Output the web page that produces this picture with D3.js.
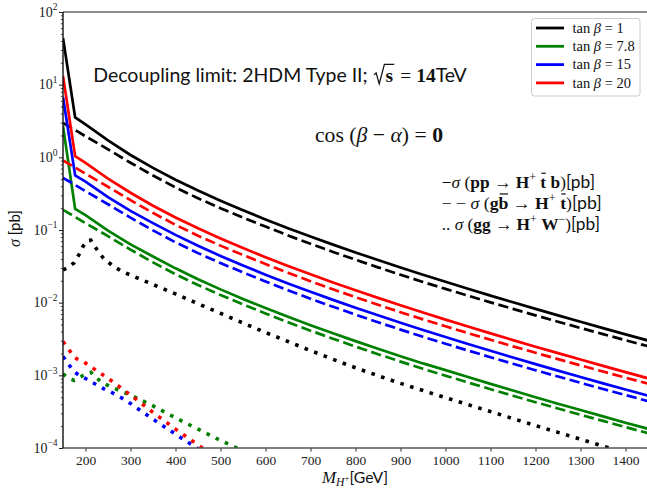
<!DOCTYPE html>
<html>
<head>
<meta charset="utf-8">
<script src="https://cdn.jsdelivr.net/npm/d3@7"></script>
<style>
  body { margin: 0; background: #fff; }
  svg { display: block; }
</style>
</head>
<body>
<svg id="chart" width="647" height="488"></svg>
<script>
// ---- data -------------------------------------------------------------
// charged Higgs masses (GeV) for the pp -> H+ t b and g b -> H+ t curves
const massTB = [150, 177, 200, 250, 300, 350, 400, 450, 500, 550, 600, 650, 700, 750,
  800, 850, 900, 950, 1000, 1050, 1100, 1150, 1200, 1250, 1300, 1350, 1400, 1450];

// sigma(pp -> H+ tbar b) [pb]
const ppHtb_tb1   = [43.8, 3.55, 2.85, 1.708, 1.077, 0.7154, 0.4926, 0.3491, 0.2530, 0.1867, 0.1398, 0.1060, 0.0813, 0.0629,
  0.0491, 0.03855, 0.03048, 0.02422, 0.01935, 0.01553, 0.01251, 0.01012, 0.00821, 0.006686, 0.005458, 0.004467, 0.003666, 0.003015];
const ppHtb_tb7p8 = [2.7, 0.195, 0.1603, 0.09826, 0.06343, 0.0431, 0.02969, 0.02104, 0.01524, 0.01125, 0.008424, 0.006389, 0.0049, 0.003792,
  0.002958, 0.002323, 0.001836, 0.001459, 0.00118, 0.000947, 0.000763, 0.000617, 0.0005, 0.000407, 0.000333, 0.000272, 0.000223, 0.000184];
const ppHtb_tb15  = [6.76, 0.5623, 0.4624, 0.2834, 0.1830, 0.1243, 0.0856, 0.06067, 0.04395, 0.03244, 0.02429, 0.01842, 0.01413, 0.01093,
  0.008529, 0.006699, 0.005296, 0.004208, 0.003362, 0.002698, 0.002174, 0.001758, 0.001427, 0.001162, 0.000948, 0.000776, 0.000637, 0.000524];
const ppHtb_tb20  = [13.2, 1.035, 0.841, 0.5098, 0.3254, 0.2160, 0.1487, 0.1054, 0.07639, 0.05637, 0.04222, 0.03202, 0.02456, 0.0190,
  0.01482, 0.01164, 0.009202, 0.007313, 0.005843, 0.004689, 0.003778, 0.003055, 0.002479, 0.002019, 0.001648, 0.001349, 0.001107, 0.000911];

// sigma(g bbar -> H+ tbar) [pb]
const gbHt_tb1   = [2.972, 2.371, 1.950, 1.288, 0.8414, 0.5623, 0.3855, 0.2735, 0.1995, 0.1483, 0.1114, 0.08424, 0.06456, 0.04995,
  0.03899, 0.03062, 0.0242, 0.01928, 0.01548, 0.01248, 0.0101, 0.008204, 0.00669, 0.005472, 0.004487, 0.00369, 0.003042, 0.002514];
const gbHt_tb7p8 = [0.1897, 0.1513, 0.1245, 0.08221, 0.05371, 0.03589, 0.02461, 0.01746, 0.01273, 0.009466, 0.007111, 0.005377, 0.004121, 0.003188,
  0.002489, 0.001954, 0.001545, 0.001231, 0.000988, 0.000797, 0.000645, 0.000524, 0.000427, 0.000349, 0.000286, 0.000236, 0.000194, 0.00016];
const gbHt_tb15  = [0.5225, 0.4168, 0.3428, 0.2264, 0.1479, 0.09885, 0.06777, 0.04808, 0.03507, 0.02607, 0.01958, 0.01481, 0.01135, 0.008781,
  0.006854, 0.005383, 0.004254, 0.003389, 0.002721, 0.002194, 0.001776, 0.001442, 0.001176, 0.000962, 0.000789, 0.000649, 0.000535, 0.000442];
const gbHt_tb20  = [0.908, 0.7243, 0.5957, 0.3935, 0.2571, 0.1718, 0.1178, 0.08355, 0.06095, 0.04531, 0.03403, 0.02574, 0.01972, 0.01526,
  0.01191, 0.009354, 0.007393, 0.00589, 0.004729, 0.003813, 0.003086, 0.002506, 0.002044, 0.001672, 0.001371, 0.001127, 0.000929, 0.000768];

// charged Higgs masses (GeV) for the gg -> H+ W- curves
const massGG = [150, 160, 175, 185, 195, 205, 212, 225, 240, 260, 280, 300, 350, 400, 450, 500, 550, 600,
  650, 700, 750, 800, 850, 900, 950, 1000, 1050, 1100, 1150, 1200, 1250, 1300, 1350, 1400];

// sigma(gg -> H+ W-) [pb]
const ggHW_tb1   = [0.0282, 0.0302, 0.0355, 0.0452, 0.0603, 0.0716, 0.0724, 0.0542, 0.0408, 0.0324, 0.0271, 0.0240, 0.01778, 0.01318,
  0.00966, 0.00714, 0.00525, 0.00389, 0.00292, 0.00219, 0.00166, 0.00127, 0.000989, 0.000776, 0.000617, 0.000493, 0.000395,
  0.000317, 0.000254, 0.000204, 0.000164, 0.000132, 0.000106, 0.0000851];
const ggHW_tb7p8 = [0.00105, 0.000933, 0.000851, 0.000912, 0.001, 0.00107, 0.0011, 0.000912, 0.000776, 0.000676, 0.000603, 0.000537,
  0.00038, 0.00026, 0.000182, 0.000127, 0.0000912];
const ggHW_tb15  = [0.00182, 0.00148, 0.00112, 0.00101, 0.000944, 0.000868, 0.000818, 0.000741, 0.000656, 0.000573, 0.00049, 0.000409,
  0.000249, 0.000155, 0.0000977, 0.0000617];
const ggHW_tb20  = [0.00292, 0.0024, 0.00178, 0.00162, 0.00155, 0.00141, 0.00132, 0.00115, 0.001, 0.000822, 0.000661, 0.000537,
  0.000309, 0.000182, 0.00011, 0.0000676];

const tanBetaLabels = ['1', '7.8', '15', '20'];
const seriesColors = ['#000000', '#008000', '#0000ff', '#ff0000'];
const solidSets  = [ppHtb_tb1, ppHtb_tb7p8, ppHtb_tb15, ppHtb_tb20];
const dashedSets = [gbHt_tb1, gbHt_tb7p8, gbHt_tb15, gbHt_tb20];
const dottedSets = [ggHW_tb1, ggHW_tb7p8, ggHW_tb15, ggHW_tb20];

const xTicks = [200, 300, 400, 500, 600, 700, 800, 900, 1000, 1100, 1200, 1300, 1400];
const yExponents = [-4, -3, -2, -1, 0, 1, 2];

// ---- layout -----------------------------------------------------------
const W = 647, H = 488;
const P = { l: 63, r: 648, t: 12, b: 448 };
const SERIF = "'Liberation Serif', 'DejaVu Serif', serif";
const SANS = "Lato, 'DejaVu Sans', sans-serif";

const svg = d3.select('#chart');
svg.append('rect').attr('width', W).attr('height', H).attr('fill', '#fff');

const x = d3.scaleLinear().domain([150, 1450]).range([P.l, P.r]);
const y = d3.scaleLog().domain([1e-4, 1e2]).range([P.b, P.t]);

svg.append('defs').append('clipPath').attr('id', 'plotArea')
  .append('rect').attr('x', P.l).attr('y', P.t).attr('width', P.r - P.l).attr('height', P.b - P.t);

// ---- curves -----------------------------------------------------------
const line = d3.line().x(d => x(d[0])).y(d => y(d[1]));
const plot = svg.append('g').attr('clip-path', 'url(#plotArea)');
const zip = (ms, vs) => vs.map((v, i) => [ms[i], v]);

seriesColors.forEach((c, i) => {
  plot.append('path').attr('d', line(zip(massTB, solidSets[i])))
    .attr('fill', 'none').attr('stroke', c).attr('stroke-width', 2.7);
  plot.append('path').attr('d', line(zip(massTB, dashedSets[i])))
    .attr('fill', 'none').attr('stroke', c).attr('stroke-width', 2.7)
    .attr('stroke-dasharray', '10.3,4.5');
  plot.append('path').attr('d', line(zip(massGG, dottedSets[i])))
    .attr('fill', 'none').attr('stroke', c).attr('stroke-width', 3.6)
    .attr('stroke-dasharray', '3.6,6.6');
});

// ---- axes -------------------------------------------------------------
const gx = svg.append('g').attr('transform', `translate(0,${P.b})`)
  .call(d3.axisBottom(x).tickValues(xTicks).tickSize(3.5).tickSizeOuter(0).tickPadding(4).tickFormat(d3.format('d')));
gx.select('.domain').remove();
gx.selectAll('.tick line').attr('stroke', '#222').attr('stroke-width', 1);
gx.selectAll('.tick text').attr('font-family', SERIF).attr('font-size', 13.5).attr('fill', '#222');

const majors = yExponents.map(e => Math.pow(10, e));
const minors = [];
yExponents.slice(0, -1).forEach(e => { for (let k = 2; k <= 9; k++) minors.push(k * Math.pow(10, e)); });

const gyMinor = svg.append('g').attr('transform', `translate(${P.l},0)`)
  .call(d3.axisLeft(y).tickValues(minors).tickSize(2.2).tickFormat(''));
gyMinor.select('.domain').remove();
gyMinor.selectAll('.tick line').attr('stroke', '#222').attr('stroke-width', 0.8);

const gy = svg.append('g').attr('transform', `translate(${P.l},0)`)
  .call(d3.axisLeft(y).tickValues(majors).tickSize(4).tickFormat(''));
gy.select('.domain').remove();
gy.selectAll('.tick line').attr('stroke', '#222').attr('stroke-width', 1);

// y tick labels as 10^n
yExponents.forEach(e => {
  const t = svg.append('text').attr('x', P.l - 5.5).attr('y', y(Math.pow(10, e)) + 4.8)
    .attr('text-anchor', 'end').attr('font-family', SERIF).attr('fill', '#222');
  t.append('tspan').attr('font-size', 14).text('10');
  t.append('tspan').attr('font-size', 9.5).attr('dy', -6.5).text(e < 0 ? '\u2212' + (-e) : String(e));
});

// spines
svg.append('line').attr('x1', P.l).attr('x2', W).attr('y1', P.t).attr('y2', P.t)
  .attr('stroke', '#666').attr('stroke-width', 1.4);
svg.append('line').attr('x1', P.l).attr('x2', W).attr('y1', P.b).attr('y2', P.b)
  .attr('stroke', '#555').attr('stroke-width', 1.4);
svg.append('line').attr('x1', P.l).attr('x2', P.l).attr('y1', P.t).attr('y2', P.b)
  .attr('stroke', '#111').attr('stroke-width', 1.4);

// ---- mixed-font text runs -------------------------------------------------
// parts: {t, f, s, b (bold), i (italic), dy, bar (overline), rad (radical over next part), sp}
function textRuns(parent, parts, opts) {
  const g = parent.append('g');
  let cx = 0;
  const placed = [];
  parts.forEach(p => {
    if (p.rad) { placed.push({ x0: cx, x1: cx + p.sp, p }); cx += p.sp; return; }
    const t = g.append('text').attr('x', cx).attr('y', p.dy || 0)
      .attr('font-family', p.f || SERIF).attr('font-size', p.s || 16)
      .attr('font-weight', p.b ? 'bold' : 'normal')
      .attr('font-style', p.i ? 'italic' : 'normal')
      .attr('fill', '#111')
      .style('white-space', 'pre')
      .text(p.t);
    const w = t.node().getComputedTextLength();
    placed.push({ x0: cx, x1: cx + w, p });
    cx += w + (p.gap || 0);
  });
  placed.forEach((q, k) => {
    const s = q.p.s || 16;
    if (q.p.bar) {
      g.append('line').attr('x1', q.x0 + 0.8).attr('x2', q.x1 - 0.3)
        .attr('y1', -0.82 * s).attr('y2', -0.82 * s)
        .attr('stroke', '#111').attr('stroke-width', 0.9);
    }
    if (q.p.rad) {
      const nx = placed[k + 1];
      const top = -0.88 * q.p.s;
      g.append('path').attr('fill', 'none').attr('stroke', '#111').attr('stroke-width', 1.1)
        .attr('d', `M${q.x0 + 1},${-0.34 * q.p.s} L${q.x0 + 2.8},${-0.44 * q.p.s} L${q.x0 + 5.5},${0.12 * q.p.s} L${q.x0 + q.p.sp - 1},${top} L${nx.x1 + 1},${top}`);
    }
  });
  const scale = opts.width ? opts.width / cx : 1;
  let ox = opts.x;
  if (opts.anchor === 'middle') ox = opts.x - (cx * scale) / 2;
  if (opts.anchor === 'end') ox = opts.x - cx * scale;
  const pre = opts.rotate ? `translate(${opts.x},${opts.y}) rotate(${opts.rotate}) translate(${-cx * scale / 2},0)` :
    `translate(${ox},${opts.y})`;
  g.attr('transform', `${pre} scale(${scale})`);
  return g;
}

// axis titles
textRuns(svg, [
  { t: 'M', i: true, s: 14.5 },
  { t: 'H', i: true, s: 10, dy: 3 },
  { t: '+', s: 7.5, dy: -1 },
  { t: '[GeV]', f: SANS, s: 13.5 }
], { x: 355, y: 482.5, anchor: 'middle', width: 66 });

textRuns(svg, [
  { t: '\u03c3', i: true, s: 15 },
  { t: ' [pb]', f: SANS, s: 14 }
], { x: 19.5, y: 228.5, rotate: -90, width: 37 });

// headline
textRuns(svg, [
  { t: 'Decoupling limit: 2HDM Type II; ', f: SANS, s: 17 },
  { rad: true, sp: 11, s: 17 },
  { t: 's', b: true, s: 17, gap: 2 },
  { t: ' = ', s: 17 },
  { t: '14', b: true, s: 17 },
  { t: 'TeV', f: SANS, s: 17 }
], { x: 93.3, y: 81.5, width: 373.5 });

textRuns(svg, [
  { t: 'cos', s: 17 },
  { t: ' (', s: 17 },
  { t: '\u03b2', i: true, s: 17 },
  { t: ' \u2212 ', s: 17 },
  { t: '\u03b1', i: true, s: 17 },
  { t: ')', s: 17 },
  { t: ' = ', s: 17 },
  { t: '0', b: true, s: 17 }
], { x: 315, y: 141.5, width: 128 });

// process key
const SZ = 13, SUP = 9;
textRuns(svg, [
  { t: '\u2212', s: SZ }, { t: '\u03c3', i: true, s: SZ }, { t: ' (', s: SZ },
  { t: 'pp', b: true, s: SZ }, { t: ' \u2192 ', s: SZ },
  { t: 'H', b: true, s: SZ }, { t: '+', s: SUP, dy: -5 }, { t: ' ', s: SZ },
  { t: 't', b: true, s: SZ, bar: true }, { t: ' ', s: SZ }, { t: 'b', b: true, s: SZ },
  { t: ')', s: SZ }, { t: '[pb]', f: SANS, s: SZ }
], { x: 441.7, y: 187.5, width: 153.3 });

textRuns(svg, [
  { t: '\u2212 \u2212 ', s: SZ }, { t: '\u03c3', i: true, s: SZ }, { t: ' (', s: SZ },
  { t: 'g', b: true, s: SZ }, { t: 'b', b: true, s: SZ, bar: true }, { t: ' \u2192 ', s: SZ },
  { t: 'H', b: true, s: SZ }, { t: '+', s: SUP, dy: -5 }, { t: ' ', s: SZ },
  { t: 't', b: true, s: SZ, bar: true },
  { t: ')', s: SZ }, { t: '[pb]', f: SANS, s: SZ }
], { x: 441.7, y: 208.5, width: 160 });

textRuns(svg, [
  { t: '.. ', s: SZ }, { t: '\u03c3', i: true, s: SZ }, { t: ' (', s: SZ },
  { t: 'gg', b: true, s: SZ }, { t: ' \u2192 ', s: SZ },
  { t: 'H', b: true, s: SZ }, { t: '+', s: SUP, dy: -5 }, { t: ' ', s: SZ },
  { t: 'W', b: true, s: SZ }, { t: '\u2212', s: SUP, dy: -5 },
  { t: ')', s: SZ }, { t: '[pb]', f: SANS, s: SZ }
], { x: 441.7, y: 229.5, width: 158.3 });

// ---- legend -----------------------------------------------------------
const lg = svg.append('g');
lg.append('rect').attr('x', 531.5).attr('y', 18.5).attr('width', 108.5).attr('height', 77.5)
  .attr('rx', 3).attr('fill', '#fff').attr('fill-opacity', 0.85)
  .attr('stroke', '#cccccc').attr('stroke-width', 1);
tanBetaLabels.forEach((lab, i) => {
  const cy = 28 + i * 18.3;
  lg.append('line').attr('x1', 536).attr('x2', 564).attr('y1', cy).attr('y2', cy)
    .attr('stroke', seriesColors[i]).attr('stroke-width', 2.8);
  textRuns(lg, [
    { t: 'tan ', s: 14.5 }, { t: '\u03b2', i: true, s: 14.5 }, { t: ' = ' + lab, s: 14.5 }
  ], { x: 572.5, y: cy + 4.8 });
});
</script>
</body>
</html>
